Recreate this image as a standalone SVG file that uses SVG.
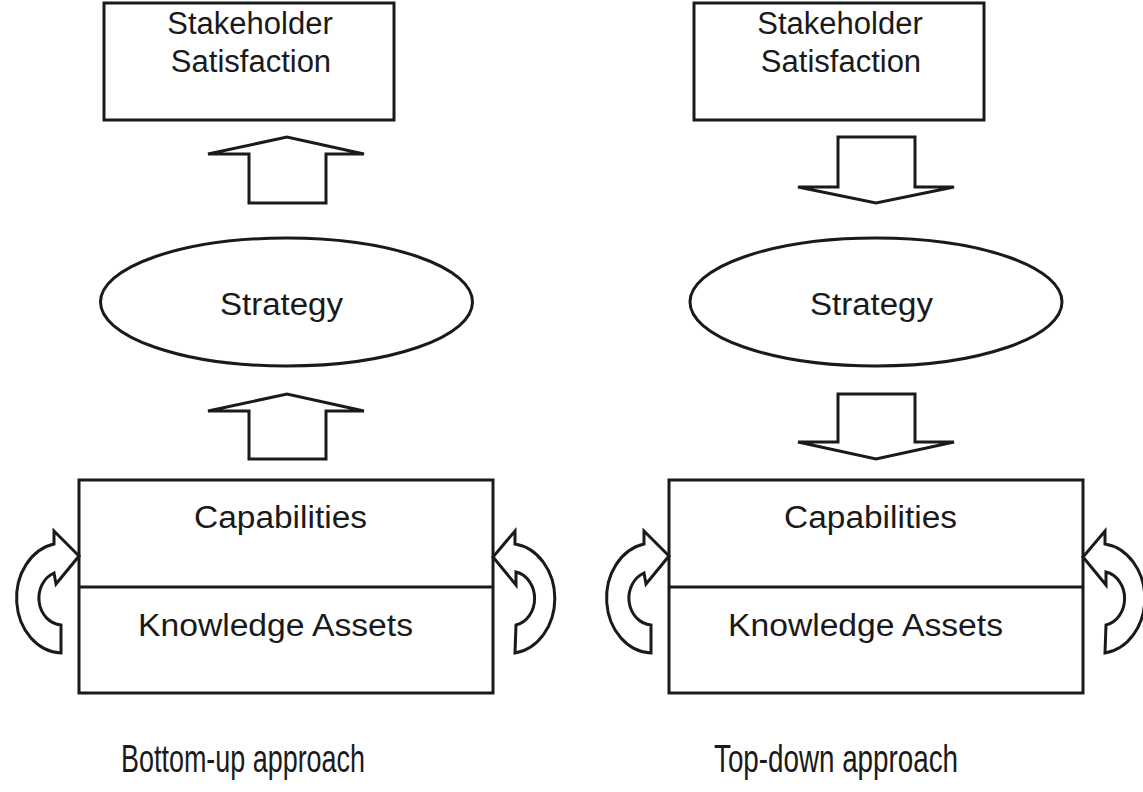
<svg xmlns="http://www.w3.org/2000/svg" width="1143" height="792" viewBox="0 0 1143 792">
<style>
.shape{fill:#fff;stroke:#1a1a1a;stroke-width:3;stroke-linejoin:miter}
.ln{stroke:#1a1a1a;stroke-width:3;fill:none}
.t{font-family:"Liberation Sans",Arial,sans-serif;font-size:31px;fill:#1a1a1a}
.tt{font-family:"Liberation Sans",Arial,sans-serif;font-size:31px;fill:#1a1a1a;text-anchor:middle}
.cap{font-family:"Liberation Sans",Arial,sans-serif;font-size:38px;fill:#1a1a1a}
</style>
<rect width="1143" height="792" fill="#fff"/>
<g id="left-stakeholder">
<rect class="shape" x="104" y="3" width="290" height="117"/>
<text class="tt" x="250" y="34">Stakeholder</text>
<text class="tt" x="251" y="72">Satisfaction</text>
</g>
<g id="left-strategy">
<ellipse class="shape" cx="286.5" cy="302" rx="186" ry="64"/>
<text class="t" x="220" y="315" textLength="123" lengthAdjust="spacingAndGlyphs">Strategy</text>
</g>
<g id="left-base">
<rect class="shape" x="79" y="480" width="414" height="213"/>
<line class="ln" x1="79" y1="587" x2="493" y2="587"/>
<text class="t" x="194" y="528" textLength="173" lengthAdjust="spacingAndGlyphs">Capabilities</text>
<text class="t" x="138" y="636" textLength="275" lengthAdjust="spacingAndGlyphs">Knowledge Assets</text>
</g>
<g id="right-stakeholder">
<rect class="shape" x="694" y="3" width="290" height="117"/>
<text class="tt" x="840" y="34">Stakeholder</text>
<text class="tt" x="841" y="72">Satisfaction</text>
</g>
<g id="right-strategy">
<ellipse class="shape" cx="876" cy="302" rx="186" ry="64"/>
<text class="t" x="810" y="315" textLength="123" lengthAdjust="spacingAndGlyphs">Strategy</text>
</g>
<g id="right-base">
<rect class="shape" x="669" y="480" width="414" height="213"/>
<line class="ln" x1="669" y1="587" x2="1083" y2="587"/>
<text class="t" x="784" y="528" textLength="173" lengthAdjust="spacingAndGlyphs">Capabilities</text>
<text class="t" x="728" y="636" textLength="275" lengthAdjust="spacingAndGlyphs">Knowledge Assets</text>
</g>
<g id="connectors">
<path class="shape" d="M249,203 L249,154 L208,154 L287,137 L364,154 L326,154 L326,203 Z"/>
<path class="shape" d="M249,459 L249,411 L208,411 L287,394 L364,411 L326,411 L326,459 Z"/>
<path class="shape" d="M838,137 L915,137 L915,187 L954,187 L876,203 L798,187 L838,187 Z"/>
<path class="shape" d="M838,394 L915,394 L915,442 L954,442 L876,459 L798,442 L838,442 Z"/>
<path class="shape" d="M61,653 A46,55 0 0 1 54,544 L54,531 L79,556 L56,584 L54,573 A24,27 0 0 0 61,625 Z"/>
<path class="shape" d="M515,653 A46,55 0 0 0 515,544 L515,531 L493,557 L516,585 L516,572 A23,27 0 0 1 516,625 Z"/>
<path class="shape" d="M651,653 A46,55 0 0 1 644,544 L644,531 L669,556 L646,584 L644,573 A24,27 0 0 0 651,625 Z"/>
<path class="shape" d="M1105,653 A46,55 0 0 0 1105,544 L1105,531 L1083,557 L1106,585 L1106,572 A23,27 0 0 1 1106,625 Z"/>
</g>
<g id="captions">
<text class="cap" x="121" y="772" textLength="244" lengthAdjust="spacingAndGlyphs">Bottom-up approach</text>
<text class="cap" x="714" y="772" textLength="244" lengthAdjust="spacingAndGlyphs">Top-down approach</text>
</g>
</svg>
